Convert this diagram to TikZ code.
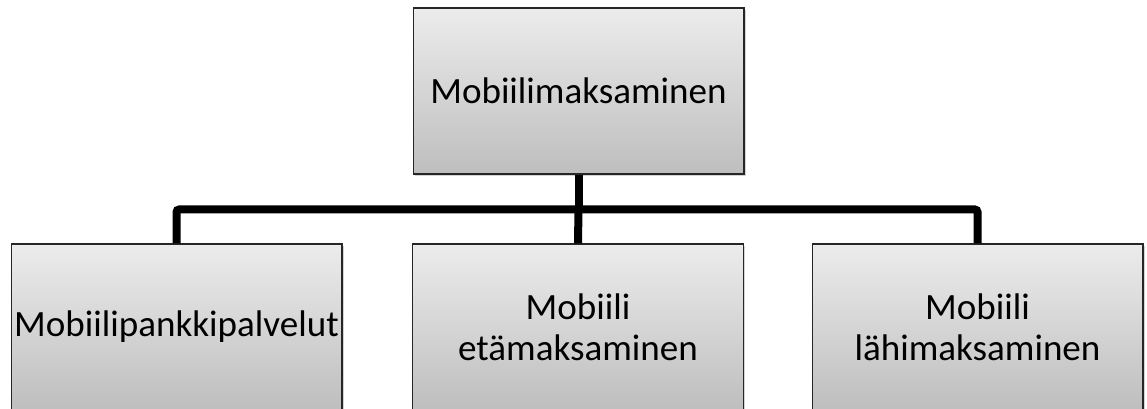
\documentclass[tikz,border=0pt]{standalone}
\usepackage{fontspec}
\setmainfont{Carlito}
\usetikzlibrary{shadows}
\definecolor{boxtop}{HTML}{ECECEC}
\definecolor{boxbot}{HTML}{BEBEBE}
\tikzset{
  orgbox/.style={draw=black!85,line width=1pt,top color=boxtop,bottom color=boxbot,
    minimum width=248pt,minimum height=124.5pt,inner sep=0pt,align=center,
    font=\fontsize{27.8}{30.5}\selectfont,
    drop shadow={shadow xshift=1.5pt,shadow yshift=-1.5pt,opacity=0.35}},
  orgline/.style={line width=6pt,black,rounded corners=2pt}
}
\begin{document}
\begin{tikzpicture}[x=0.75pt,y=-0.75pt]
\useasboundingbox (0,0) rectangle (1147,409);
\clip (0,0) rectangle (1147,409);
\node[orgbox] (top) at (578.5,91) {Mobiilimaksaminen};
\node[orgbox] (pankki) at (176.5,327) {Mobiilipankkipalvelut};
\node[orgbox] (eta) at (578,327) {Mobiili\\etämaksaminen};
\node[orgbox] (lahi) at (977.5,327) {Mobiili\\lähimaksaminen};
\coordinate (bus) at (578.5,209.5);
\draw[orgline] (pankki.north) |- (bus) -| (lahi.north);
\draw[orgline] (top.south) -- (bus);
\draw[orgline] (bus) -- (eta.north);
\end{tikzpicture}
\end{document}
